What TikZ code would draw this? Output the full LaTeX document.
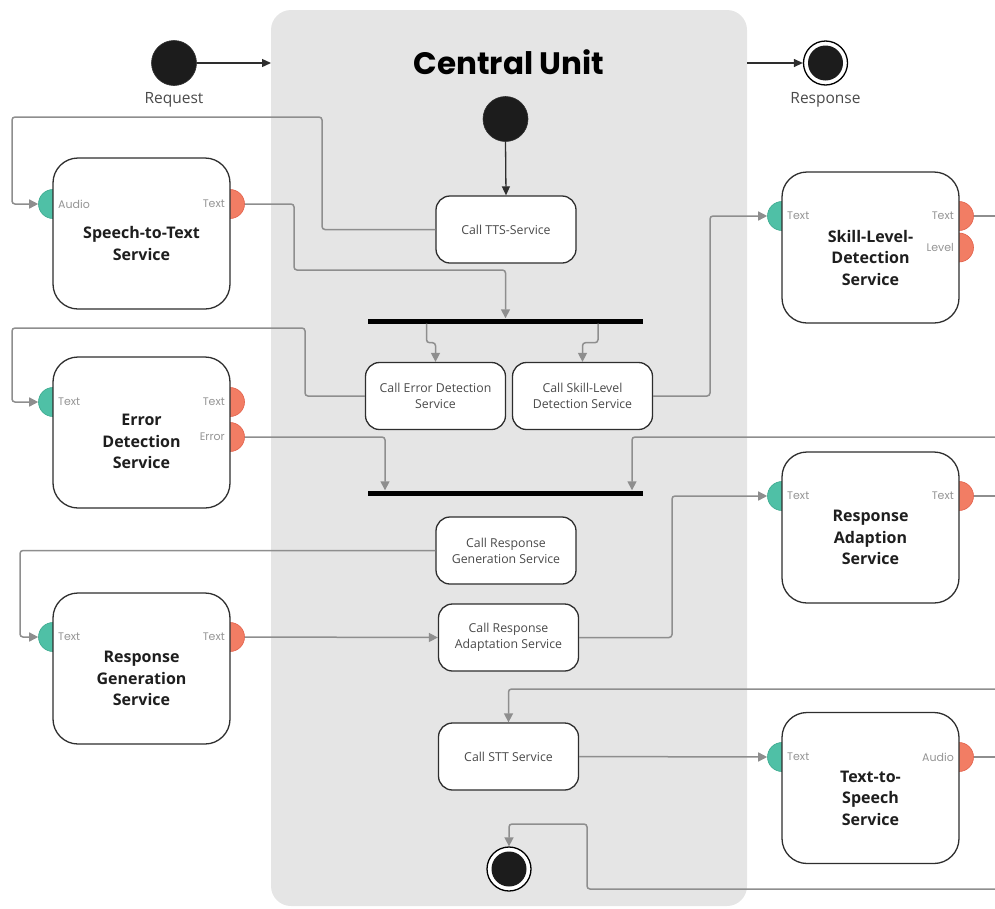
\documentclass[tikz,border=0pt]{standalone}
\usepackage{fontspec}
\setmainfont{Open Sans}
\newfontfamily\headfont{Poppins}
\usetikzlibrary{arrows.meta,calc}

\definecolor{panelgray}{HTML}{E5E5E5}
\definecolor{wiregray}{HTML}{8E8E8E}
\definecolor{edgedark}{HTML}{2E2E2E}
\definecolor{dotfill}{HTML}{1C1C1C}
\definecolor{ingreen}{HTML}{4FC0A6}
\definecolor{ingreenline}{HTML}{3AA88D}
\definecolor{outred}{HTML}{F27D64}
\definecolor{outredline}{HTML}{E2604A}
\definecolor{calltext}{HTML}{4A4A4A}
\definecolor{porttext}{HTML}{959595}
\definecolor{nametext}{HTML}{1E1E1E}

\pgfdeclarelayer{panel}
\pgfdeclarelayer{ports}
\pgfsetlayers{panel,ports,main}

\tikzset{
  service/.style={draw=edgedark, line width=1.3pt, fill=white, rounded corners=25pt,
    minimum width=177pt, minimum height=151pt, inner sep=0pt},
  svcname/.style={align=center, text=nametext, inner sep=0pt,
    font=\bfseries\fontsize{16}{21.5}\selectfont},
  callbox/.style={draw=edgedark, line width=1.3pt, fill=white, rounded corners=14pt,
    minimum width=140pt, minimum height=67pt, inner sep=0pt, align=center,
    text=calltext, font=\fontsize{12.3}{16}\selectfont},
  inport/.style={circle, minimum size=29pt, inner sep=0pt, fill=ingreen, draw=ingreenline, line width=0.6pt},
  outport/.style={circle, minimum size=29pt, inner sep=0pt, fill=outred, draw=outredline, line width=0.6pt},
  portlbl/.style={text=porttext, inner sep=0pt, font=\headfont\fontsize{11}{13}\selectfont},
  syncbar/.style={rectangle, fill=black, minimum width=275pt, minimum height=5pt, inner sep=0pt},
  startdot/.style={circle, fill=dotfill, draw=edgedark, line width=0.6pt, minimum size=45pt, inner sep=0pt},
  enddot/.style={circle, draw=black, line width=1.3pt, fill=white, minimum size=44pt, inner sep=0pt,
    path picture={\fill[dotfill] (path picture bounding box.center) circle[radius=17.5pt];}},
  wire/.style={draw=wiregray, line width=1.5pt, rounded corners=3pt},
  wiretip/.style={-{Triangle[length=9pt,width=9pt]}},
  darkwire/.style={draw=edgedark, line width=1.3pt, -{Triangle[length=9pt,width=8pt]}},
  extlbl/.style={text=calltext, font=\fontsize{15.5}{18}\selectfont}
}

\begin{document}
\begin{tikzpicture}[x=1pt,y=-1pt]
\useasboundingbox (0,0) rectangle (995,908);

% central unit panel
\begin{pgfonlayer}{panel}
  \fill[panelgray, rounded corners=20pt] (271,10) rectangle (747,906);
\end{pgfonlayer}
\node[font=\headfont\bfseries\fontsize{31}{31}\selectfont, text=black] (title) at (509,62) {Central Unit};

% request / response terminals
\node[startdot] (req) at (174,63) {};
\node[extlbl] (reqlbl) at (174,100) {Request};
\coordinate (panelin) at (271,63);
\coordinate (panelout) at (747,63);
\node[enddot] (resp) at (825.5,63) {};
\node[extlbl] (resplbl) at (825.5,100) {Response};

% activity flow inside the central unit
\node[startdot] (init) at (505.5,119) {};
\node[callbox] (ctts) at (506,229.5) {Call TTS-Service};
\node[syncbar] (fork) at (505.5,321) {};
\node[callbox] (ced) at (435.5,396) {Call Error Detection\\Service};
\node[callbox] (csl) at (582.5,396) {Call Skill-Level\\Detection Service};
\node[syncbar] (join) at (505.5,493) {};
\node[callbox] (crg) at (506,550.5) {Call Response\\Generation Service};
\node[callbox] (cra) at (508.5,637.5) {Call Response\\Adaptation Service};
\node[callbox] (cstt) at (508.5,756.5) {Call STT Service};
\node[enddot] (final) at (509,869) {};

% services
\node[service] (stt) at (141.5,233.5) {};
\node[service] (eds) at (141.5,432.5) {};
\node[service] (rgs) at (141.5,668.5) {};
\node[service] (sls) at (870.5,247.5) {};
\node[service] (ras) at (870.5,527.5) {};
\node[service] (tts) at (870.5,788) {};

\node[svcname] (stt-name) at ($(stt.center)+(0,10)$) {Speech-to-Text\\Service};
\node[svcname] (eds-name) at ($(eds.center)+(0,9)$) {Error\\Detection\\Service};
\node[svcname] (rgs-name) at ($(rgs.center)+(0,10)$) {Response\\Generation\\Service};
\node[svcname] (sls-name) at ($(sls.center)+(0,10)$) {Skill-Level-\\Detection\\Service};
\node[svcname] (ras-name) at ($(ras.center)+(0,10)$) {Response\\Adaption\\Service};
\node[svcname] (tts-name) at ($(tts.center)+(0,10)$) {Text-to-\\Speech\\Service};

% ports (half hidden behind the service boxes)
\begin{pgfonlayer}{ports}
  \node[inport]  (stt-in)  at (53,204) {};
  \node[outport] (stt-out) at (230,204) {};
  \node[inport]  (eds-in)  at (53,402) {};
  \node[outport] (eds-out) at (230,402) {};
  \node[outport] (eds-err) at (230,437) {};
  \node[inport]  (rgs-in)  at (53,637) {};
  \node[outport] (rgs-out) at (230,637) {};
  \node[inport]  (sls-in)  at (782,216) {};
  \node[outport] (sls-lvl) at (959,247.5) {};
  \node[outport] (sls-out) at (959,216) {};
  \node[inport]  (ras-in)  at (782,496) {};
  \node[outport] (ras-out) at (959,496) {};
  \node[inport]  (tts-in)  at (782,757) {};
  \node[outport] (tts-out) at (959,757) {};
\end{pgfonlayer}

% port labels
\node[portlbl, anchor=west] at ($(stt-in)+(5,0)$) {Audio};
\node[portlbl, anchor=east] at ($(stt-out)+(-5,0)$) {Text};
\node[portlbl, anchor=west] at ($(eds-in)+(5,0)$) {Text};
\node[portlbl, anchor=east] at ($(eds-out)+(-5,0)$) {Text};
\node[portlbl, anchor=east] at ($(eds-err)+(-5,0)$) {Error};
\node[portlbl, anchor=west] at ($(rgs-in)+(5,0)$) {Text};
\node[portlbl, anchor=east] at ($(rgs-out)+(-5,0)$) {Text};
\node[portlbl, anchor=west] at ($(sls-in)+(5,0)$) {Text};
\node[portlbl, anchor=east] at ($(sls-out)+(-5,0)$) {Text};
\node[portlbl, anchor=east] at ($(sls-lvl)+(-5,0)$) {Level};
\node[portlbl, anchor=west] at ($(ras-in)+(5,0)$) {Text};
\node[portlbl, anchor=east] at ($(ras-out)+(-5,0)$) {Text};
\node[portlbl, anchor=west] at ($(tts-in)+(5,0)$) {Text};
\node[portlbl, anchor=east] at ($(tts-out)+(-5,0)$) {Audio};

% loose ends at the right margin
\coordinate (sls-exit) at (995,216);
\coordinate (ras-exit) at (995,496);
\coordinate (tts-exit) at (995,757);
\coordinate (lvl-back) at (995,437);
\coordinate (rg-back)  at (995,689);
\coordinate (tts-back) at (995,889);

% dark control arrows
\draw[darkwire] (req.east) -- (panelin);
\draw[darkwire] (panelout) -- (resp.west);
\draw[darkwire] (init.south) -- (ctts.north);

% data wires
\draw[wire, wiretip] (ctts.west) -- (322,229.5) -- (322,117) -- (12,117) |- (stt-in.west);
\draw[wire, wiretip] (stt-out.east) -- (294,204) -- (294,270) -| (fork.north);
\draw[wire, wiretip] ([xshift=-79pt]fork.south) -- ++(0,19) -| (ced.north);
\draw[wire, wiretip] ([xshift=92.5pt]fork.south) -- ++(0,19) -| (csl.north);
\draw[wire, wiretip] (ced.west) -- (305,396) -- (305,328) -- (12,328) |- (eds-in.west);
\draw[wire, wiretip] (eds-err.east) -| ([xshift=-120.5pt]join.north);
\draw[wire, wiretip] (csl.east) -- (710,396) |- (sls-in.west);
\draw[wire] (sls-out.east) -- (sls-exit);
\draw[wire, wiretip] (lvl-back) -| ([xshift=126.5pt]join.north);
\draw[wire, wiretip] (crg.west) -- (20,550.5) |- (rgs-in.west);
\draw[wire, wiretip] (rgs-out.east) -- (cra.west);
\draw[wire, wiretip] (cra.east) -- (672,637.5) |- (ras-in.west);
\draw[wire] (ras-out.east) -- (ras-exit);
\draw[wire, wiretip] (rg-back) -| (cstt.north);
\draw[wire, wiretip] (cstt.east) -- (tts-in.west);
\draw[wire] (tts-out.east) -- (tts-exit);
\draw[wire, wiretip] (tts-back) -- (587,889) -- (587,824) -| (final.north);
\end{tikzpicture}
\end{document}
